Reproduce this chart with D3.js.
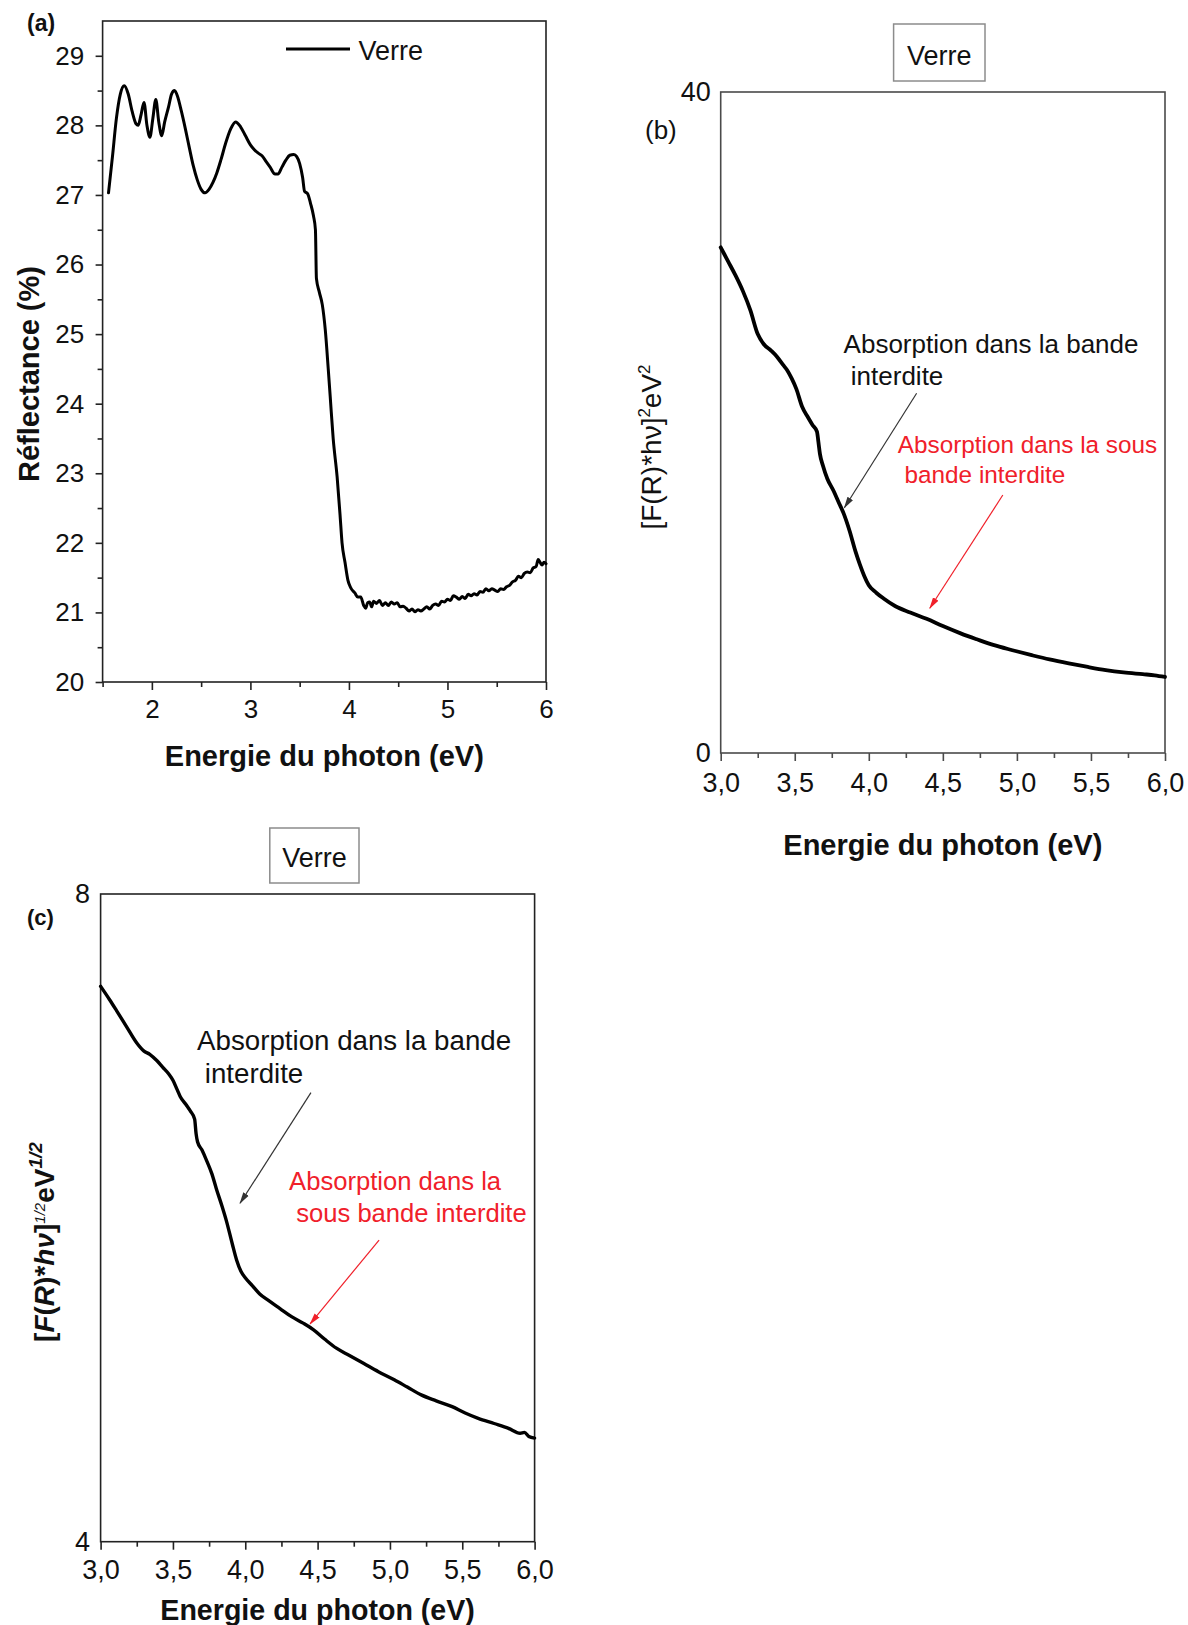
<!DOCTYPE html>
<html>
<head>
<meta charset="utf-8">
<script src="https://cdn.jsdelivr.net/npm/d3@7"></script>
<style>
  html, body { margin: 0; padding: 0; background: #fff; }
  svg { display: block; }
  text { white-space: pre; }
</style>
</head>
<body>
<svg id="fig" width="1188" height="1625"></svg>
<script>
// ---------- (a) diffuse reflectance of the glass substrate ----------
const energyA = [1.56,1.60,1.64,1.68,1.72,1.76,1.80,1.84,1.86,1.89,1.92,1.95,1.98,2.01,2.04,2.07,2.10,2.13,2.17,2.20,2.23,2.26,2.30,2.34,2.38,2.42,2.46,2.50,2.54,2.58,2.62,2.66,2.70,2.75,2.80,2.85,2.90,2.95,3.00,3.04,3.08,3.12,3.16,3.20,3.25,3.28,3.32,3.36,3.40,3.44,3.47,3.50,3.53,3.55,3.58,3.61,3.64,3.66,3.67,3.70,3.73,3.76,3.79,3.81,3.84,3.88,3.91,3.93,3.96,3.99,4.02,4.06,4.09,4.12,4.15,4.17,4.19,4.21,4.23,4.25,4.28,4.31,4.34,4.37,4.40,4.43,4.46,4.49,4.52,4.55,4.58,4.61,4.64,4.67,4.70,4.73,4.76,4.79,4.82,4.85,4.88,4.91,4.94,4.97,5.00,5.03,5.06,5.09,5.12,5.15,5.18,5.21,5.24,5.27,5.30,5.33,5.36,5.39,5.42,5.45,5.48,5.51,5.54,5.57,5.60,5.63,5.66,5.69,5.72,5.75,5.78,5.81,5.84,5.87,5.90,5.92,5.94,5.96,5.98,6.00];
const reflectA = [27.03,27.55,28.10,28.45,28.57,28.45,28.20,28.02,28.00,28.15,28.33,28.00,27.83,28.10,28.37,28.05,27.85,28.05,28.27,28.45,28.50,28.42,28.20,27.95,27.68,27.42,27.22,27.08,27.03,27.08,27.18,27.32,27.50,27.75,27.95,28.05,27.98,27.85,27.72,27.65,27.60,27.56,27.48,27.40,27.30,27.30,27.40,27.50,27.57,27.58,27.55,27.45,27.25,27.05,27.02,26.88,26.70,26.50,25.80,25.60,25.42,25.06,24.50,24.10,23.50,22.95,22.40,22.00,21.72,21.46,21.35,21.28,21.22,21.22,21.10,21.06,21.14,21.15,21.08,21.16,21.13,21.17,21.10,21.14,21.10,21.15,21.12,21.14,21.08,21.09,21.06,21.02,21.05,21.01,21.04,21.02,21.05,21.08,21.05,21.10,21.12,21.10,21.16,21.15,21.19,21.17,21.24,21.22,21.19,21.23,21.20,21.26,21.24,21.27,21.25,21.30,21.29,21.34,21.31,21.34,21.32,21.30,21.34,21.33,21.37,21.39,21.44,21.46,21.52,21.50,21.56,21.58,21.57,21.64,21.66,21.76,21.72,21.68,21.72,21.70];
const xMajorA = [2, 3, 4, 5, 6];
const xMinorA = [1.5, 2.5, 3.5, 4.5, 5.5];
const yMajorA = [20, 21, 22, 23, 24, 25, 26, 27, 28, 29];
const yMinorA = [20.5, 21.5, 22.5, 23.5, 24.5, 25.5, 26.5, 27.5, 28.5];

// ---------- (b) Kubelka-Munk, direct transition ----------
const energyB = [3.00,3.05,3.10,3.15,3.20,3.25,3.29,3.34,3.38,3.42,3.45,3.48,3.51,3.55,3.59,3.62,3.65,3.66,3.67,3.69,3.72,3.76,3.80,3.83,3.87,3.91,3.94,3.97,4.00,4.05,4.10,4.18,4.28,4.39,4.50,4.62,4.73,4.84,4.97,5.10,5.22,5.35,5.47,5.60,5.72,5.85,5.93,6.00];
const kmB = [30.60,29.75,28.90,27.95,26.80,25.35,24.75,24.35,23.98,23.50,23.15,22.65,22.05,20.95,20.30,19.85,19.45,18.80,18.10,17.40,16.60,15.90,15.10,14.50,13.45,12.20,11.40,10.70,10.15,9.70,9.35,8.88,8.50,8.12,7.68,7.24,6.88,6.54,6.22,5.92,5.66,5.42,5.22,5.02,4.88,4.77,4.70,4.60];

// ---------- (c) Kubelka-Munk, indirect transition ----------
const energyC = [3.00,3.06,3.11,3.18,3.25,3.30,3.34,3.39,3.43,3.47,3.50,3.53,3.55,3.59,3.62,3.65,3.66,3.67,3.70,3.73,3.77,3.80,3.84,3.87,3.91,3.94,3.97,4.00,4.05,4.10,4.16,4.24,4.32,4.40,4.47,4.55,4.63,4.72,4.82,4.92,5.03,5.12,5.22,5.32,5.43,5.52,5.61,5.72,5.82,5.90,5.93,5.96,6.00];
const kmC = [7.43,7.35,7.28,7.18,7.08,7.03,7.01,6.97,6.93,6.89,6.85,6.79,6.75,6.70,6.66,6.61,6.52,6.47,6.42,6.36,6.27,6.18,6.07,5.98,5.84,5.74,5.67,5.63,5.58,5.53,5.49,5.44,5.39,5.35,5.31,5.25,5.195,5.15,5.10,5.05,5.00,4.955,4.905,4.87,4.834,4.795,4.762,4.73,4.70,4.67,4.675,4.65,4.64];

const xMajorBC = [3.0, 3.5, 4.0, 4.5, 5.0, 5.5, 6.0];
const xMinorBC = [3.25, 3.75, 4.25, 4.75, 5.25, 5.75];
const yLabelsB = [0, 40];
const yLabelsC = [4, 8];

// ---------- drawing ----------
const FONT = '"Liberation Sans", Arial, Helvetica, sans-serif';
const RED = "#f0202a";
const svg = d3.select("#fig").attr("font-family", FONT);
const frLocale = d3.formatLocale({ decimal: ",", thousands: " ", grouping: [3], currency: ["", " €"] });
const fmtComma = frLocale.format(".1f");
const fmtInt = d3.format("d");

// arrow heads
const defs = svg.append("defs");
[["arrowBlack", "#333"], ["arrowRed", RED]].forEach(([id, c]) => {
  defs.append("marker")
    .attr("id", id).attr("markerUnits", "userSpaceOnUse")
    .attr("viewBox", "0 0 12 8").attr("refX", 11).attr("refY", 4)
    .attr("markerWidth", 12).attr("markerHeight", 8).attr("orient", "auto")
    .append("path").attr("d", "M0,0.8 L12,4 L0,7.2 Z").attr("fill", c);
});

function styleAxis(sel, color, fontSize) {
  sel.select(".domain").remove();
  sel.selectAll(".tick line").attr("stroke", color).attr("stroke-width", 1.6);
  sel.selectAll(".tick text")
    .attr("fill", "#111").attr("font-size", fontSize).attr("font-family", FONT);
}

function makePanel(o) {
  const g = svg.append("g");
  const x = d3.scaleLinear().domain(o.xDomain).range([o.left, o.right]);
  const y = d3.scaleLinear().domain(o.yDomain).range([o.bottom, o.top]);

  // x axis: minor then major ticks, pointing outward
  g.append("g").attr("transform", `translate(0,${o.bottom})`)
    .call(d3.axisBottom(x).tickValues(o.xMinor).tickSize(5).tickFormat(""))
    .call(s => styleAxis(s, o.axisColor, o.tickFont));
  g.append("g").attr("transform", `translate(0,${o.bottom})`)
    .call(d3.axisBottom(x).tickValues(o.xMajor).tickSize(8).tickPadding(o.xPad).tickFormat(o.xFmt))
    .call(s => styleAxis(s, o.axisColor, o.tickFont));

  // y axis
  if (o.yMinor) {
    g.append("g").attr("transform", `translate(${o.left},0)`)
      .call(d3.axisLeft(y).tickValues(o.yMinor).tickSize(5).tickFormat(""))
      .call(s => styleAxis(s, o.axisColor, o.tickFont));
  }
  g.append("g").attr("transform", `translate(${o.left},0)`)
    .call(d3.axisLeft(y).tickValues(o.yMajor).tickSize(o.yTick).tickPadding(o.yPad).tickFormat(fmtInt))
    .call(s => styleAxis(s, o.axisColor, o.tickFont));

  // frame
  g.append("rect")
    .attr("x", o.left).attr("y", o.top)
    .attr("width", o.right - o.left).attr("height", o.bottom - o.top)
    .attr("fill", "none").attr("stroke", o.axisColor).attr("stroke-width", 1.6);

  // curve
  const line = d3.line().x(d => x(d[0])).y(d => y(d[1])).curve(d3.curveMonotoneX);
  g.append("path").datum(d3.zip(o.xs, o.ys))
    .attr("d", line).attr("fill", "none").attr("stroke", "#000")
    .attr("stroke-width", o.lineWidth).attr("stroke-linejoin", "round").attr("stroke-linecap", "round");

  return { g, x, y };
}

function arrow(g, x, y, from, to, color, marker) {
  g.append("line")
    .attr("x1", x(from[0])).attr("y1", y(from[1]))
    .attr("x2", x(to[0])).attr("y2", y(to[1]))
    .attr("stroke", color).attr("stroke-width", 1.2)
    .attr("marker-end", `url(#${marker})`);
}

function label(g, px, py, str, size, opts = {}) {
  return g.append("text").attr("x", px).attr("y", py)
    .attr("font-size", size).attr("fill", opts.fill || "#111")
    .attr("font-weight", opts.weight || "normal")
    .attr("text-anchor", opts.anchor || "start")
    .text(str);
}

function verreBox(g, x0, y0, x1, y1, tx, ty) {
  g.append("rect").attr("x", x0).attr("y", y0).attr("width", x1 - x0).attr("height", y1 - y0)
    .attr("fill", "#fff").attr("stroke", "#8c8c8c").attr("stroke-width", 1.5);
  label(g, tx, ty, "Verre", 27, { anchor: "middle" });
}

// ----- panel (a)
const A = makePanel({
  left: 102.6, right: 546, top: 21, bottom: 682,
  xDomain: [1.5, 6], yDomain: [20, 29.5],
  xMajor: xMajorA, xMinor: xMinorA, yMajor: yMajorA, yMinor: yMinorA,
  xFmt: fmtInt, xPad: 10, yTick: 7, yPad: 11.5, tickFont: 26,
  axisColor: "#222", xs: energyA, ys: reflectA, lineWidth: 3
});
label(A.g, 27, 31, "(a)", 23, { weight: "bold" });
A.g.append("line").attr("x1", 286).attr("x2", 350).attr("y1", 49).attr("y2", 49)
  .attr("stroke", "#000").attr("stroke-width", 3);
label(A.g, 358.5, 59.5, "Verre", 27);
label(A.g, 324.3, 766, "Energie du photon (eV)", 29, { weight: "bold", anchor: "middle" });
A.g.append("text").attr("transform", "translate(38.5,374) rotate(-90)")
  .attr("text-anchor", "middle").attr("font-size", 29).attr("font-weight", "bold").attr("fill", "#111")
  .text("Réflectance (%)");

// ----- panel (b)
const B = makePanel({
  left: 720.7, right: 1165, top: 92, bottom: 753,
  xDomain: [3, 6], yDomain: [0, 40],
  xMajor: xMajorBC, xMinor: xMinorBC, yMajor: yLabelsB, yMinor: null,
  xFmt: fmtComma, xPad: 12, yTick: 0, yPad: 10, tickFont: 27,
  axisColor: "#4a4a4a", xs: energyB, ys: kmB, lineWidth: 3.8
});
label(B.g, 645, 139, "(b)", 26);
verreBox(B.g, 893.6, 24, 985, 81, 939.3, 65);
label(B.g, 942.8, 855, "Energie du photon (eV)", 29, { weight: "bold", anchor: "middle" });
{
  const t = B.g.append("text").attr("transform", "translate(661,447) rotate(-90)")
    .attr("text-anchor", "middle").attr("font-size", 28).attr("fill", "#111");
  t.append("tspan").text("[F(R)*hν]");
  t.append("tspan").attr("font-size", 17).attr("dy", -11).text("2");
  t.append("tspan").attr("dy", 11).text("eV");
  t.append("tspan").attr("font-size", 17).attr("dy", -11).text("2");
}
label(B.g, B.x(3.83), B.y(24.2), "Absorption dans la bande", 26);
label(B.g, B.x(3.83), B.y(22.27), " interdite", 26);
arrow(B.g, B.x, B.y, [4.323, 21.77], [3.835, 14.84], "#333", "arrowBlack");
label(B.g, B.x(4.196), B.y(18.14), "Absorption dans la sous", 24.3, { fill: RED });
label(B.g, B.x(4.196), B.y(16.32), " bande interdite", 24.3, { fill: RED });
arrow(B.g, B.x, B.y, [4.905, 15.61], [4.412, 8.76], RED, "arrowRed");

// ----- panel (c)
const C = makePanel({
  left: 100.6, right: 534.6, top: 894, bottom: 1541.7,
  xDomain: [3, 6], yDomain: [4, 8],
  xMajor: xMajorBC, xMinor: xMinorBC, yMajor: yLabelsC, yMinor: null,
  xFmt: fmtComma, xPad: 10, yTick: 0, yPad: 10.5, tickFont: 27,
  axisColor: "#222", xs: energyC, ys: kmC, lineWidth: 3.4
});
label(C.g, 27, 925, "(c)", 22, { weight: "bold" });
verreBox(C.g, 269.8, 828, 359, 883, 314.4, 866.7);
label(C.g, 317.6, 1620, "Energie du photon (eV)", 28.6, { weight: "bold", anchor: "middle" });
{
  const t = C.g.append("text").attr("transform", "translate(53.5,1242) rotate(-90)")
    .attr("text-anchor", "middle").attr("font-size", 28).attr("font-weight", "bold").attr("fill", "#111");
  t.append("tspan").text("[");
  t.append("tspan").attr("font-style", "italic").text("F");
  t.append("tspan").text("(");
  t.append("tspan").attr("font-style", "italic").text("R");
  t.append("tspan").text(")*");
  t.append("tspan").attr("font-style", "italic").text("hν");
  t.append("tspan").text("]");
  t.append("tspan").attr("font-size", 15).attr("font-weight", "normal").attr("font-style", "italic").attr("dy", -9).text("1/2");
  t.append("tspan").attr("dy", 9).text("eV");
  t.append("tspan").attr("font-size", 19).attr("font-style", "italic").attr("dy", -12).text("1/2");
}
label(C.g, C.x(3.667), C.y(7.037), "Absorption dans la bande", 27.7);
label(C.g, C.x(3.667), C.y(6.831), " interdite", 27.7);
arrow(C.g, C.x, C.y, [4.454, 6.773], [3.964, 6.09], "#333", "arrowBlack");
label(C.g, C.x(4.303), C.y(6.172), "Absorption dans la", 25.6, { fill: RED });
label(C.g, C.x(4.303), C.y(5.975), " sous bande interdite", 25.6, { fill: RED });
arrow(C.g, C.x, C.y, [4.925, 5.863], [4.448, 5.345], RED, "arrowRed");
</script>
</body>
</html>
